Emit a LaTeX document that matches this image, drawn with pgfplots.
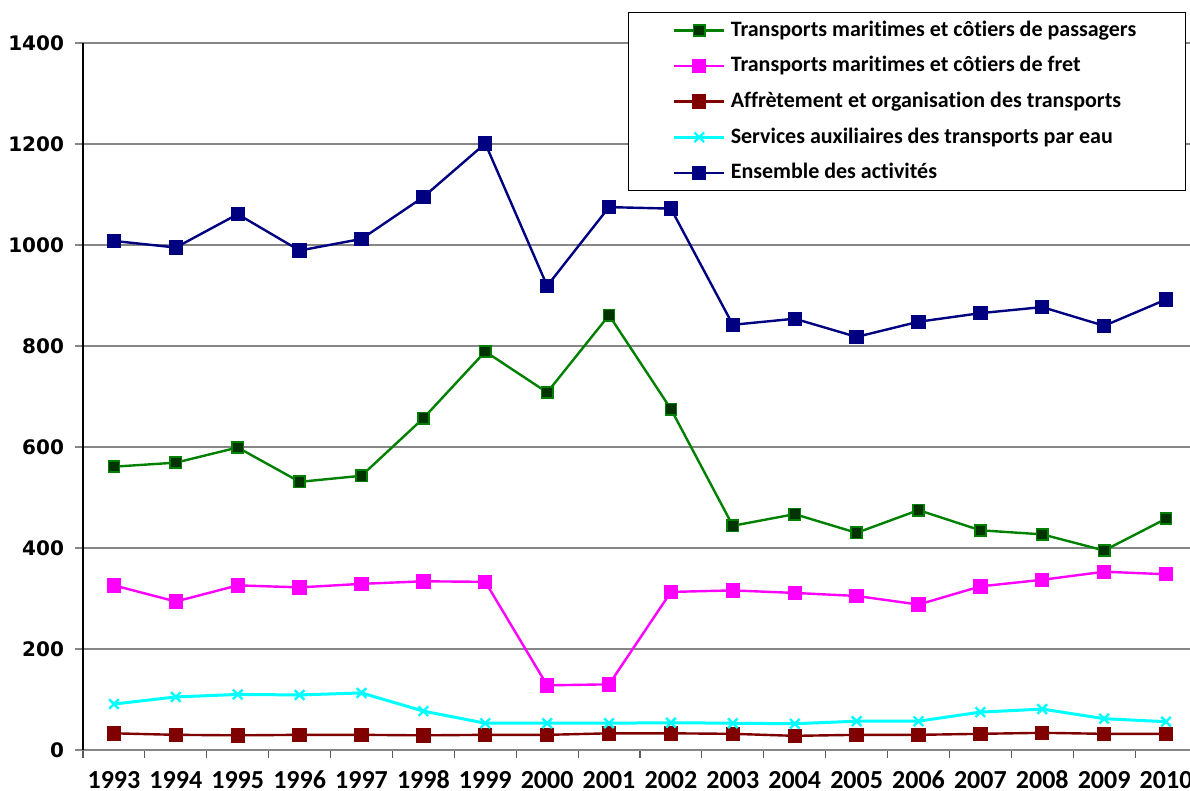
\documentclass[border=0pt]{standalone}
\usepackage{fontspec}
\setmainfont{Carlito}[Ligatures=NoCommon]
\newfontfamily\dejavu{DejaVu Sans}
\usepackage{pgfplots}
\pgfplotsset{compat=1.18}
\definecolor{cgreen}{HTML}{008000}
\definecolor{cdgreen}{HTML}{003300}
\definecolor{cmag}{HTML}{FF00FF}
\definecolor{cred}{HTML}{800000}
\definecolor{ccyan}{HTML}{00FFFF}
\definecolor{cnavy}{HTML}{000080}
\definecolor{cgrid}{HTML}{868686}
\definecolor{ctick}{HTML}{595959}
\begin{document}
\begin{tikzpicture}
\begin{axis}[
  scale only axis,
  width=557pt, height=353.5pt,
  xmin=-0.5, xmax=17.5,
  ymin=0, ymax=1400,
  ytick={0,200,...,1400},
  xtick={0,1,2,3,4,5,6,7,8,9,10,11,12,13,14,15,16,17},
  xticklabels={1993,1994,1995,1996,1997,1998,1999,2000,2001,2002,2003,2004,2005,2006,2007,2008,2009,2010},
  minor xtick={-0.5,0.5,1.5,2.5,3.5,4.5,5.5,6.5,7.5,8.5,9.5,10.5,11.5,12.5,13.5,14.5,15.5,16.5,17.5},
  axis x line=bottom, axis y line=left,
  axis line style={-},
  x axis line style={cgrid, line width=1pt},
  y axis line style={black, line width=0.6pt},
  tick align=outside,
  major tick length=4pt,
  minor tick length=4pt,
  xtick style={ctick, line width=0.6pt},
  major x tick style={draw=none},
  ytick style={cgrid, line width=0.6pt},
  ymajorgrids,
  grid style={cgrid, line width=1pt},
  /pgf/number format/assume math mode=true,
  /pgf/number format/1000 sep={},
  yticklabel style={font=\dejavu\bfseries\fontsize{10}{12}\selectfont, xshift=-2pt},
  xticklabel style={font=\bfseries\fontsize{13}{15}\selectfont, anchor=north, text height=9.5pt, text depth=0pt, yshift=-2pt},
  legend style={at={(0.990,1.0438)}, anchor=north east, draw=black, line width=0.6pt,
    font=\bfseries\fontsize{11}{13}\selectfont, inner xsep=22pt, inner ysep=0pt,
    row sep=0pt, nodes={text height=8.8pt, text depth=3pt, inner ysep=3pt, inner xsep=2.5pt}},
  legend cell align=left,
  legend image code/.code={\draw[mark repeat=2,mark phase=2] plot coordinates {(0pt,0pt) (12.5pt,0pt) (25pt,0pt)};},
  clip=false,
]
\addplot[cgreen, line width=1.2pt, mark=square*, mark size=2.8pt, mark options={fill=cdgreen, draw=cgreen, line width=0.8pt}] coordinates {
(0,561) (1,569) (2,599) (3,531) (4,543) (5,657) (6,789) (7,708) (8,861) (9,675) (10,444) (11,467) (12,430) (13,475) (14,435) (15,427) (16,395) (17,458)};
\addlegendentry{Transports maritimes et côtiers de passagers}
\addplot[cmag, line width=1.2pt, mark=square*, mark size=3pt, mark options={fill=cmag}] coordinates {
(0,326) (1,294) (2,326) (3,322) (4,329) (5,334) (6,333) (7,128) (8,130) (9,313) (10,316) (11,311) (12,305) (13,288) (14,324) (15,337) (16,353) (17,348)};
\addlegendentry{Transports maritimes et côtiers de fret}
\addplot[cred, line width=1.2pt, mark=square*, mark size=3pt, mark options={fill=cred}] coordinates {
(0,33) (1,30) (2,29) (3,30) (4,30) (5,29) (6,30) (7,30) (8,33) (9,33) (10,32) (11,28) (12,30) (13,30) (14,32) (15,34) (16,32) (17,32)};
\addlegendentry{Affrètement et organisation des transports}
\addplot[ccyan, line width=1.5pt, mark=x, mark size=3.4pt, mark options={line width=1.2pt}] coordinates {
(0,91) (1,105) (2,110) (3,109) (4,113) (5,77) (6,53) (7,53) (8,53) (9,54) (10,53) (11,52) (12,57) (13,57) (14,75) (15,81) (16,62) (17,56)};
\addlegendentry{Services auxiliaires des transports par eau}
\addplot[cnavy, line width=1.2pt, mark=square*, mark size=3pt, mark options={fill=cnavy}] coordinates {
(0,1008) (1,995) (2,1061) (3,989) (4,1012) (5,1095) (6,1201) (7,919) (8,1075) (9,1072) (10,842) (11,854) (12,818) (13,848) (14,865) (15,877) (16,840) (17,892)};
\addlegendentry{Ensemble des activités}
\coordinate (sw) at (rel axis cs:0,0);
\coordinate (ne) at (rel axis cs:1,1);
\end{axis}
\pgfresetboundingbox
\path ([shift={(-41.5pt,-20.5pt)}]sw) rectangle ([shift={(-3.5pt,21.5pt)}]ne);
\end{tikzpicture}
\end{document}
